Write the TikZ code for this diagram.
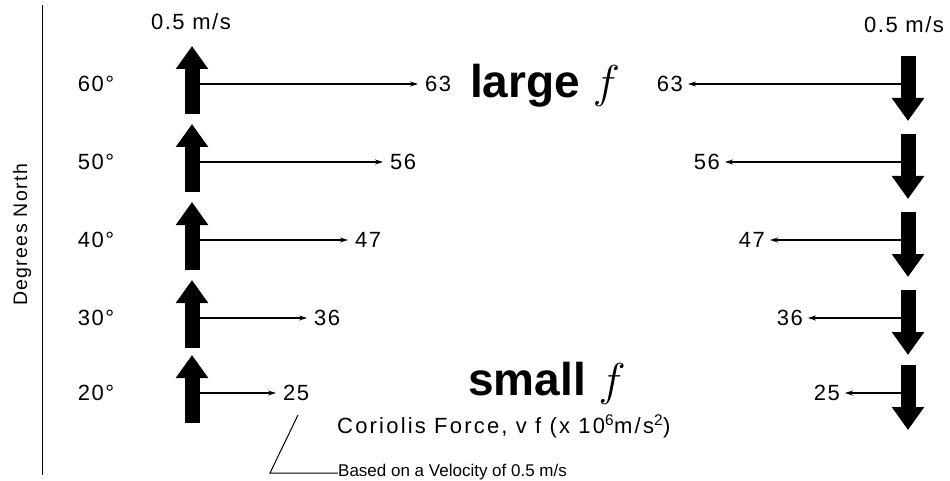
\RequirePackage{fix-cm}
\documentclass[tikz,border=0pt]{standalone}
\usepackage{fontspec}
\setmainfont{Liberation Sans}
\newfontfamily\spaced[LetterSpace=7]{Liberation Sans}
\newfontfamily\wide[LetterSpace=10]{Liberation Sans}
\usetikzlibrary{arrows.meta,positioning}

\begin{document}
\begin{tikzpicture}[x=1pt,y=-1pt,
  bigarrow/.style={line width=15pt,-{Triangle[width=31pt,length=23pt]}},
  force/.style={line width=1.1pt,-{Stealth[length=8pt,width=5pt]}},
  lbl/.style={font=\spaced\fontsize{22}{24}\selectfont,inner sep=0pt},
  note/.style={font=\fontsize{17}{20}\selectfont,inner sep=0pt,anchor=base west},
  big/.style={font=\fontsize{46}{50}\bfseries\selectfont,inner sep=0pt,anchor=base west}]
\useasboundingbox (0,0) rectangle (950,481);
% latitude axis
\draw[line width=1pt] (42,5) -- (42,475);
\node[lbl,rotate=90,font=\spaced\fontsize{19.5}{22}\selectfont] (axis) at (22,235) {Degrees North};
\node[lbl] (vleft) at (191,22) {0.5 m/s};
\node[lbl] (vright) at (904,25) {0.5 m/s};
% one row per latitude
\foreach \n/\lat/\y/\lx/\rx/\v in {1/60/84/418/688/63,2/50/162/383/725/56,3/40/240/348/770/47,4/30/318/307/808/36,5/20/393/276/845/25}{
  \node[lbl] (lat\n) at (96,\y) {\lat°};
  \coordinate (ls\n) at (192,\y);
  \coordinate (rs\n) at (908,\y);
  \node[lbl,anchor=west,inner xsep=7pt] (lv\n) at (\lx,\y) {\v};
  \node[lbl,anchor=east,inner xsep=5pt] (rv\n) at (\rx,\y) {\v};
  \draw[force] (ls\n) -- (lv\n.west);
  \draw[force] (rs\n) -- (rv\n.east);
  \coordinate (lb\n) at (192,\y+30);
  \coordinate (lt\n) at (192,\y-38);
  \coordinate (rt\n) at (908,\y-28);
  \coordinate (rb\n) at (908,\y+37);
  \draw[bigarrow] (lb\n) -- (lt\n);
  \draw[bigarrow] (rt\n) -- (rb\n);
}
\node[big] (large) at (470,98) {large $f$};
\node[big] (small) at (468,395) {small $f$};
\node[note,font=\wide\fontsize{22}{24}\selectfont] (coriolis) at (337,433) {Coriolis Force, v f (x 10\textsuperscript{6}m/s\textsuperscript{2})};
\node[note] (based) at (338,476) {Based on a Velocity of 0.5 m/s};
\coordinate (lead) at (298,415);
\draw[line width=1pt] (lead) -- (270,473) -- (based.west |- 0,473);
\end{tikzpicture}
\end{document}
